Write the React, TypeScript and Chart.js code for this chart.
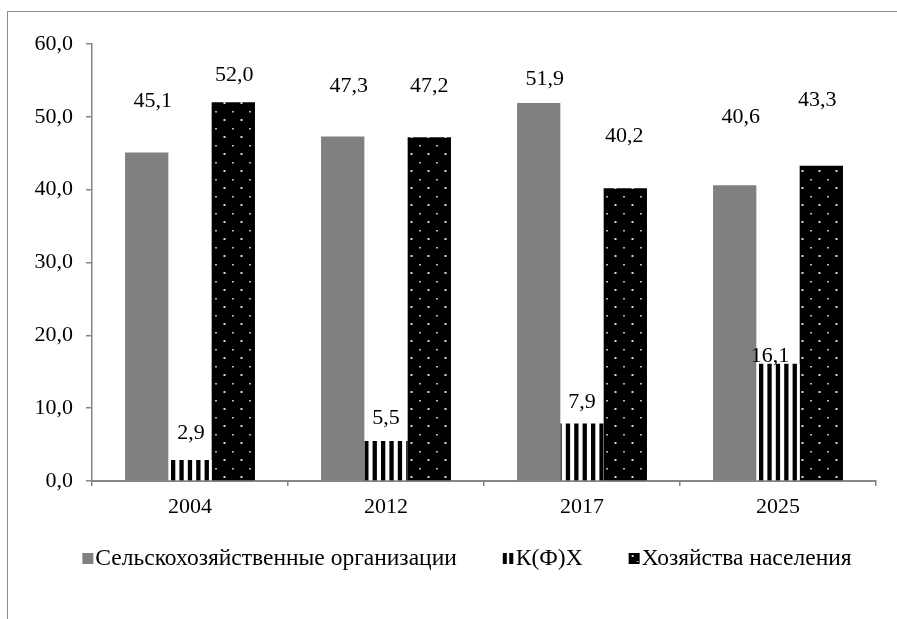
import React, { useEffect, useRef } from 'react';
import { Chart, registerables } from 'chart.js';

Chart.register(...registerables);

const categories = ['2004', '2012', '2017', '2025'];
const agriOrgs = [45.1, 47.3, 51.9, 40.6];
const farms = [2.9, 5.5, 7.9, 16.1];
const households = [52.0, 47.2, 40.2, 43.3];
const seriesNames = ['Сельскохозяйственные организации', 'К(Ф)Х', 'Хозяйства населения'];
const yMin = 0;
const yMax = 60;
const yStep = 10;

const FONT = '"Liberation Serif", "Times New Roman", serif';
const AXIS_COLOR = '#868686';
const GRAY = '#808080';

// label placement relative to bar top (dx, dy in px) — style only
const LABEL_OFFSETS: number[][][] = [
  [[6, -51], [6, -50], [6, -24], [6, -68]],
  [[1, -27], [0, -23], [0, -21], [-8, -8]],
  [[1, -27], [0, -51], [-1, -52], [-4, -65]],
];

const fmt = (v: number) => v.toFixed(1).replace('.', ',');

function makeStripePattern(ctx: CanvasRenderingContext2D) {
  const c = document.createElement('canvas');
  c.width = 42;
  c.height = 4;
  const g = c.getContext('2d')!;
  g.fillStyle = '#ffffff';
  g.fillRect(0, 0, 42, 4);
  g.fillStyle = '#000000';
  for (let i = 0; i < 5; i++) g.fillRect(i * 8.4 + 3, 0, 4.3, 4);
  return ctx.createPattern(c, 'repeat')!;
}

function makeDotPattern(ctx: CanvasRenderingContext2D) {
  const c = document.createElement('canvas');
  c.width = 17;
  c.height = 17;
  const g = c.getContext('2d')!;
  g.fillStyle = '#000000';
  g.fillRect(0, 0, 17, 17);
  g.fillStyle = '#d8d8d8';
  g.fillRect(2.5, 0, 2, 2);
  g.fillStyle = '#b8b8b8';
  g.fillRect(11, 9, 2, 1.5);
  return ctx.createPattern(c, 'repeat')!;
}

const valueLabelPlugin = {
  id: 'valueLabels',
  afterDatasetsDraw(chart: any) {
    const ctx: CanvasRenderingContext2D = chart.ctx;
    ctx.save();
    ctx.font = `22px ${FONT}`;
    ctx.fillStyle = '#000';
    ctx.textAlign = 'center';
    ctx.textBaseline = 'middle';
    chart.data.datasets.forEach((ds: any, i: number) => {
      const meta = chart.getDatasetMeta(i);
      meta.data.forEach((el: any, j: number) => {
        const v = ds.data[j] as number;
        const [dx, dy] = LABEL_OFFSETS[i][j];
        ctx.fillText(fmt(v), el.x + dx, el.y + dy);
      });
    });
    ctx.restore();
  },
};

const customLegendPlugin = {
  id: 'customLegend',
  afterDraw(chart: any) {
    const ctx: CanvasRenderingContext2D = chart.ctx;
    ctx.save();
    ctx.font = `23.5px ${FONT}`;
    ctx.textBaseline = 'alphabetic';
    ctx.textAlign = 'left';
    const box = 11;
    const gap = 2;
    const spacing = 46;
    const baseline = 565;
    const widths = seriesNames.map((n) => ctx.measureText(n).width);
    const total = widths.reduce((a, w) => a + box + gap + w, 0) + spacing * (seriesNames.length - 1);
    let x = 467 - total / 2;
    seriesNames.forEach((name, i) => {
      const by = baseline - box - 1;
      if (i === 0) {
        ctx.fillStyle = GRAY;
        ctx.fillRect(x, by, box, box);
      } else if (i === 1) {
        ctx.fillStyle = '#000';
        ctx.fillRect(x, by, 4, box);
        ctx.fillRect(x + 6.5, by, 4, box);
      } else {
        ctx.fillStyle = '#000';
        ctx.fillRect(x, by, box, box);
        ctx.fillStyle = '#d8d8d8';
        ctx.fillRect(x + 3, by + 2, 2, 2);
        ctx.fillStyle = '#b0b0b0';
        ctx.fillRect(x + 8, by + 8, 2, 1);
      }
      ctx.fillStyle = '#000';
      ctx.fillText(name, x + box + gap, baseline);
      x += box + gap + widths[i] + spacing;
    });
    ctx.restore();
  },
};

export default function App() {
  const canvasRef = useRef<HTMLCanvasElement | null>(null);

  useEffect(() => {
    const canvas = canvasRef.current;
    if (!canvas) return;
    const ctx = canvas.getContext('2d')!;
    const stripe = makeStripePattern(ctx);
    const dots = makeDotPattern(ctx);

    const chart = new Chart(canvas, {
      type: 'bar',
      data: {
        labels: categories,
        datasets: [
          { label: seriesNames[0], data: agriOrgs, backgroundColor: GRAY, borderWidth: 0 },
          { label: seriesNames[1], data: farms, backgroundColor: stripe as any, borderWidth: 0 },
          { label: seriesNames[2], data: households, backgroundColor: dots as any, borderWidth: 0 },
        ],
      },
      options: {
        animation: false,
        responsive: false,
        maintainAspectRatio: false,
        devicePixelRatio: 1,
        layout: { padding: { left: 0, top: 44, right: 21, bottom: 100 } },
        datasets: {
          bar: { categoryPercentage: 0.663, barPercentage: 1.0 },
        },
        plugins: {
          legend: { display: false },
          tooltip: { enabled: false },
          title: { display: false },
        },
        scales: {
          x: {
            offset: true,
            grid: {
              display: true,
              drawOnChartArea: false,
              drawTicks: true,
              tickLength: 5,
              color: AXIS_COLOR,
              lineWidth: 1.5,
            },
            border: { display: true, color: AXIS_COLOR, width: 2 },
            ticks: {
              color: '#000',
              font: { family: FONT, size: 22 },
              padding: 8,
              maxRotation: 0,
            },
            afterFit: (s: any) => {
              s.height = 38;
            },
          },
          y: {
            min: yMin,
            max: yMax,
            grid: {
              display: true,
              drawOnChartArea: false,
              drawTicks: true,
              tickLength: 6,
              color: AXIS_COLOR,
              lineWidth: 1.5,
            },
            border: { display: true, color: AXIS_COLOR, width: 1.5 },
            ticks: {
              stepSize: yStep,
              color: '#000',
              font: { family: FONT, size: 22 },
              padding: 13,
              callback: (v: any) => fmt(Number(v)),
            },
            afterFit: (s: any) => {
              s.width = 92;
            },
          },
        },
      },
      plugins: [valueLabelPlugin, customLegendPlugin],
    });

    return () => {
      chart.destroy();
    };
  }, []);

  return (
    <div
      style={{
        position: 'absolute',
        left: 0,
        top: 0,
        width: 897,
        height: 619,
        overflow: 'hidden',
        background: '#ffffff',
      }}
    >
      <div
        style={{
          position: 'absolute',
          left: 7,
          top: 11,
          width: 1000,
          height: 1000,
          borderLeft: '1px solid #8c8c8c',
          borderTop: '1px solid #8c8c8c',
        }}
      />
      <canvas
        ref={canvasRef}
        width={897}
        height={619}
        style={{ position: 'absolute', left: 0, top: 0, width: 897, height: 619 }}
      />
    </div>
  );
}
